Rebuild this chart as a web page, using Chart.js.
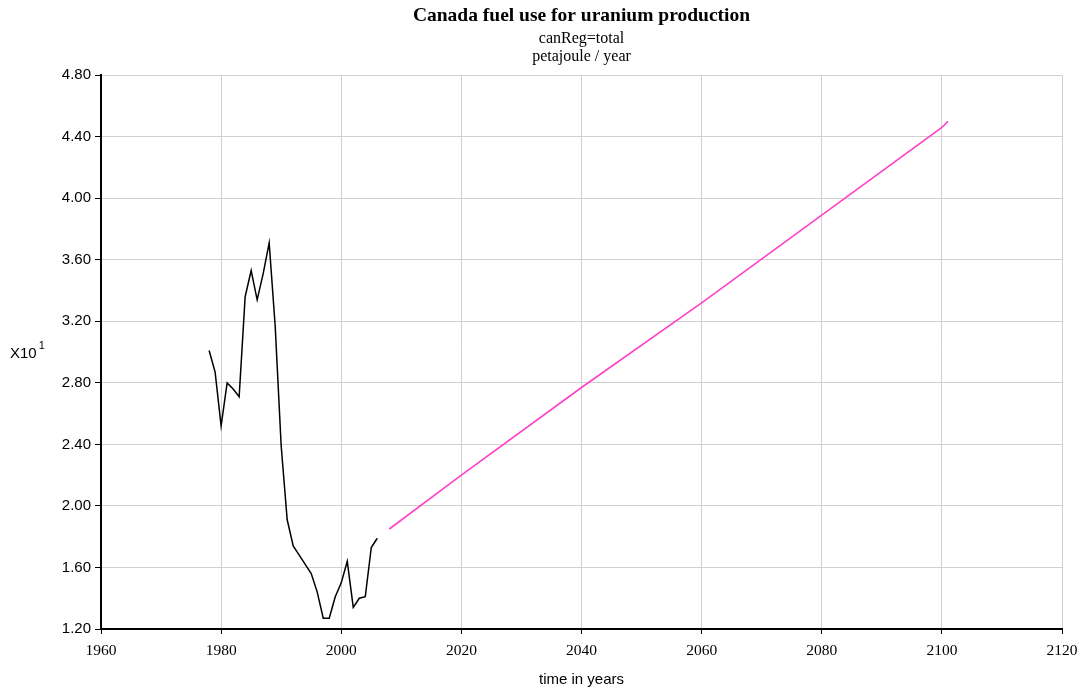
<!DOCTYPE html>
<html>
<head>
<meta charset="utf-8">
<script src="https://cdn.jsdelivr.net/npm/chart.js@4"></script>
<style>
  html, body { margin: 0; padding: 0; background: #fff; }
  #wrap { width: 1083px; height: 689px; }
</style>
</head>
<body>
<div id="wrap"><canvas id="myChart" width="1083" height="689"></canvas></div>
<script>
// historical series (black), petajoule / year
const histYears = [1978, 1979, 1980, 1981, 1982, 1983, 1984, 1985, 1986, 1987,
    1988, 1989, 1990, 1991, 1992, 1993, 1994, 1995, 1996, 1997,
    1998, 1999, 2000, 2001, 2002, 2003, 2004, 2005, 2006];
const histValues = [30.1, 28.7, 25.2, 28.0, 27.6, 27.1, 33.6, 35.3, 33.4, 35.1,
    37.1, 31.7, 23.9, 19.1, 17.4, 16.8, 16.2, 15.6, 14.4, 12.7,
    12.7, 14.1, 15.0, 16.4, 13.4, 14.0, 14.1, 17.3, 17.9];

// projection series (pink)
const projYears = [2008, 2020, 2040, 2060, 2080, 2100, 2101];
const projValues = [18.5, 22.0, 27.7, 33.2, 38.9, 44.6, 45.0];

const xTicks = [1960, 1980, 2000, 2020, 2040, 2060, 2080, 2100, 2120];
const yTicks = [12, 16, 20, 24, 28, 32, 36, 40, 44, 48];

const toPoints = (xs, ys) => xs.map((x, i) => ({ x: x, y: ys[i] }));

// "X10^1" multiplier label left of the y axis
const multiplierLabel = {
    id: 'multiplierLabel',
    afterDraw(chart) {
        const ctx = chart.ctx;
        ctx.save();
        ctx.fillStyle = '#000';
        ctx.textBaseline = 'alphabetic';
        ctx.font = '15px "Liberation Sans", Arial, sans-serif';
        ctx.fillText('X10', 10, 358);
        const w = ctx.measureText('X10').width;
        ctx.font = '11px "Liberation Sans", Arial, sans-serif';
        ctx.fillText('1', 10 + w + 2, 349);
        ctx.restore();
    }
};

const data = {
    datasets: [
        {
            label: 'history',
            data: toPoints(histYears, histValues),
            borderColor: '#000000',
            backgroundColor: '#000000',
            borderWidth: 1.5,
            pointRadius: 0,
            tension: 0
        },
        {
            label: 'projection',
            data: toPoints(projYears, projValues),
            borderColor: '#ff40c8',
            backgroundColor: '#ff40c8',
            borderWidth: 1.6,
            pointRadius: 0,
            tension: 0
        }
    ]
};

const config = {
    type: 'line',
    data: data,
    options: {
        responsive: false,
        animation: false,
        layout: { padding: { top: 0, right: 21, bottom: 0, left: 0 } },
        plugins: {
            legend: { display: false },
            tooltip: { enabled: false },
            title: {
                display: true,
                fullSize: false,
                text: 'Canada fuel use for uranium production',
                color: '#000',
                font: { family: '"Liberation Serif", "Times New Roman", serif', size: 19.5, weight: 'bold', lineHeight: 1.2 },
                padding: { top: 4, bottom: 0 }
            },
            subtitle: {
                display: true,
                fullSize: false,
                text: ['canReg=total', 'petajoule / year'],
                color: '#000',
                font: { family: '"Liberation Serif", "Times New Roman", serif', size: 16, lineHeight: 1.15 },
                padding: { top: 2, bottom: 9 }
            }
        },
        scales: {
            x: {
                type: 'linear',
                min: 1960,
                max: 2120,
                afterBuildTicks: (scale) => { scale.ticks = xTicks.map(v => ({ value: v })); },
                afterFit: (scale) => {
                    scale.height = 60;
                    scale.paddingLeft = 0;
                    scale.paddingRight = 0;
                },
                ticks: {
                    color: '#000',
                    padding: 8,
                    maxRotation: 0,
                    font: { family: '"Liberation Serif", "Times New Roman", serif', size: 15.5 },
                    callback: (v) => String(v)
                },
                grid: { color: '#d0d0d0', lineWidth: 1, tickColor: '#000', tickLength: 5 },
                border: { color: '#000', width: 2 },
                title: {
                    display: true,
                    text: 'time in years',
                    color: '#000',
                    font: { family: '"Liberation Sans", Arial, sans-serif', size: 15, lineHeight: 1.2 },
                    padding: { top: 0, bottom: 0 }
                }
            },
            y: {
                type: 'linear',
                min: 12,
                max: 48,
                afterBuildTicks: (scale) => { scale.ticks = yTicks.map(v => ({ value: v })); },
                afterFit: (scale) => { scale.width = 101; },
                ticks: {
                    color: '#000',
                    padding: 4,
                    font: { family: '"Liberation Sans", Arial, sans-serif', size: 15 },
                    callback: (v) => (v / 10).toFixed(2)
                },
                grid: { color: '#d0d0d0', lineWidth: 1, tickColor: '#000', tickLength: 6 },
                border: { color: '#000', width: 2 }
            }
        }
    },
    plugins: [multiplierLabel]
};

var ctx = document.getElementById('myChart').getContext('2d');
new Chart(ctx, config);
</script>
</body>
</html>
